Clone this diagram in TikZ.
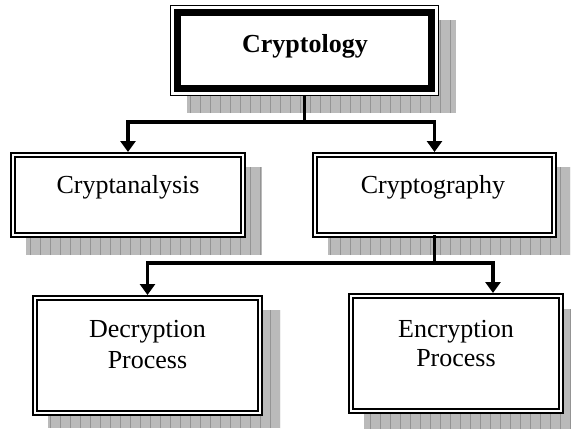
\documentclass[tikz,border=0pt]{standalone}
\usepackage{fontspec}
\setmainfont{Liberation Serif}
\usetikzlibrary{arrows.meta}
\newcommand\mkshadow[4]{%
  \begin{scope}
    \clip (#1,#2) rectangle (#3,#4);
    \fill[shadowfill] (#1,#2) rectangle (#3,#4);
    \draw[shadowgrid, step=10] (#1,#2) grid (#3,#4);
  \end{scope}}
\begin{document}
\begin{tikzpicture}[x=1pt,y=-1pt,
  shadowfill/.style={fill=black!27},
  shadowgrid/.style={draw=black!42, line width=0.5pt},
  dbox/.style={draw=black, double=white, line width=2.3pt, double distance=1.4pt,
    fill=white, inner sep=0pt, outer sep=0pt},
  topbox/.style={draw=black, line width=1.2pt, fill=white, inner sep=0pt, outer sep=0pt},
  conn/.style={line width=3.5pt},
  arr/.style={conn, -{Triangle[width=15pt,length=11pt]}, shorten >=3pt},
  lbl/.style={font=\fontsize{26}{31}\selectfont, inner sep=0pt, anchor=base},
  lblb/.style={font=\fontsize{26}{31}\selectfont\bfseries, inner sep=0pt, anchor=base}]
\useasboundingbox (0,0) rectangle (571,429);
\fill[white] (0,0) rectangle (571,429);
% shadows
\mkshadow{187}{20}{456}{113}
\mkshadow{26}{167}{262}{255}
\mkshadow{328}{167}{570}{255}
\mkshadow{48}{310}{280}{428}
\mkshadow{364}{309}{571}{429}
% boxes
\node[topbox, minimum width=267.8pt, minimum height=89.8pt] (top) at (304.5,50.5) {};
\draw[line width=7.5pt] ([xshift=7pt,yshift=-7pt]top.north west) rectangle ([xshift=-7pt,yshift=7pt]top.south east);
\node[dbox, minimum width=230pt, minimum height=80pt] (ana) at (128,195) {};
\node[dbox, minimum width=239pt, minimum height=80pt] (graphy) at (434.5,195) {};
\node[dbox, minimum width=225pt, minimum height=115pt] (dec) at (147.5,355.5) {};
\node[dbox, minimum width=210pt, minimum height=115pt] (enc) at (456,353.5) {};
% connectors
\coordinate (j1) at (304.5,122);
\coordinate (j2) at (434.5,263);
\path (enc.north) ++(37,0) coordinate (encin);
\draw[conn] (top.south) -- (j1);
\draw[arr] (j1) -| (ana.north);
\draw[arr] (j1) -| (graphy.north);
\draw[conn] (graphy.south) -- (j2);
\draw[arr] (j2) -| (dec.north);
\draw[arr] (j2) -| (encin);
% texts
\node[lblb] (t0) at (305,52) {Cryptology};
\node[lbl] (t1) at (128,193) {Cryptanalysis};
\node[lbl] (t2) at (433,193) {Cryptography};
\node[lbl] (t3a) at (147.5,337) {Decryption};
\node[lbl] (t3b) at (147.5,368) {Process};
\node[lbl] (t4a) at (456,337) {Encryption};
\node[lbl] (t4b) at (456,366) {Process};
\end{tikzpicture}
\end{document}
